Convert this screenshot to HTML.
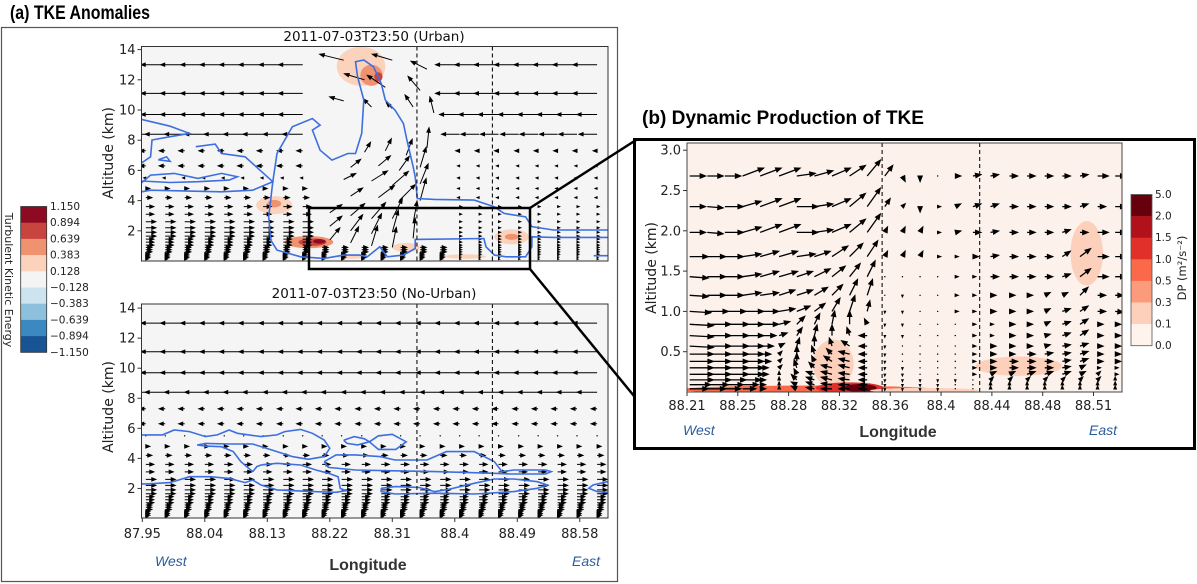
<!DOCTYPE html>
<html><head><meta charset="utf-8">
<style>
html,body{margin:0;padding:0;background:#fff;}
svg{display:block;font-family:"DejaVu Sans","Liberation Sans",sans-serif;}
.tk{font-size:13px;fill:#222;}
.cb{font-size:10.5px;fill:#222;}
</style></head>
<body>
<svg id="fig" xmlns="http://www.w3.org/2000/svg" width="1197" height="584" viewBox="0 0 1197 584">
<defs>
<clipPath id="clipAT"><rect x="141.5" y="46.5" width="466.5" height="214.5"/></clipPath>
<clipPath id="clipAB"><rect x="141.5" y="304" width="466.5" height="214"/></clipPath>
<clipPath id="clipB"><rect x="687" y="143" width="435" height="249"/></clipPath>
</defs>
<text x="10" y="19" font-family="Liberation Sans, sans-serif" font-weight="bold" font-size="19" textLength="140" lengthAdjust="spacingAndGlyphs" fill="#000">(a) TKE Anomalies</text>
<rect x="1.5" y="27.5" width="616" height="554" fill="none" stroke="#555" stroke-width="1.2"/>
<text x="642" y="124" font-family="Liberation Sans, sans-serif" font-weight="bold" font-size="19" textLength="282" lengthAdjust="spacingAndGlyphs" fill="#000">(b) Dynamic Production of TKE</text>

<g id="panelAT">
<rect x="141.5" y="46.5" width="466.5" height="214.5" fill="#f5f5f5"/>
<g id="shadeAT" clip-path="url(#clipAT)"></g>
<g id="quivAT" clip-path="url(#clipAT)"></g>
<g id="contAT" clip-path="url(#clipAT)"></g>
<g id="dashAT"></g>
<rect x="141.5" y="46.5" width="466.5" height="214.5" fill="none" stroke="#333" stroke-width="1"/>
<text x="374" y="41" text-anchor="middle" font-size="13.5" fill="#111">2011-07-03T23:50 (Urban)</text>
<text transform="translate(113,153) rotate(-90)" text-anchor="middle" font-size="14" fill="#222">Altitude (km)</text>
</g>

<g id="panelAB">
<rect x="141.5" y="304" width="466.5" height="214" fill="#f5f5f5"/>
<g id="shadeAB" clip-path="url(#clipAB)"></g>
<g id="quivAB" clip-path="url(#clipAB)"></g>
<g id="contAB" clip-path="url(#clipAB)"></g>
<g id="dashAB"></g>
<rect x="141.5" y="304" width="466.5" height="214" fill="none" stroke="#333" stroke-width="1"/>
<text x="374" y="298" text-anchor="middle" font-size="13.5" fill="#111">2011-07-03T23:50 (No-Urban)</text>
<text transform="translate(113,407) rotate(-90)" text-anchor="middle" font-size="14" fill="#222">Altitude (km)</text>
<text x="155" y="566" font-family="Liberation Sans, sans-serif" font-style="italic" font-size="14" fill="#2b5c9a">West</text>
<text x="368" y="570" text-anchor="middle" font-family="Liberation Sans, sans-serif" font-weight="bold" font-size="16" fill="#333">Longitude</text>
<text x="572" y="566" font-family="Liberation Sans, sans-serif" font-style="italic" font-size="14" fill="#2b5c9a">East</text>
</g>

<g id="cbarA">
<text transform="translate(5,280) rotate(90)" text-anchor="middle" font-size="11" fill="#222">Turbulent Kinetic Energy</text>
</g>

<g id="panelB">
<rect x="687" y="143" width="435" height="249" fill="#fdf1ec"/>
<g id="shadeB" clip-path="url(#clipB)"></g>
<g id="quivB" clip-path="url(#clipB)"></g>
<g id="dashB"></g>
<rect x="687" y="143" width="435" height="249" fill="none" stroke="#444" stroke-width="1"/>
<text transform="translate(656,268) rotate(-90)" text-anchor="middle" font-size="14" fill="#222">Altitude (km)</text>
<text x="683" y="435" font-family="Liberation Sans, sans-serif" font-style="italic" font-size="14" fill="#2b5c9a">West</text>
<text x="898" y="437" text-anchor="middle" font-family="Liberation Sans, sans-serif" font-weight="bold" font-size="16" fill="#333">Longitude</text>
<text x="1089" y="435" font-family="Liberation Sans, sans-serif" font-style="italic" font-size="14" fill="#2b5c9a">East</text>
<text transform="translate(1186,268) rotate(-90)" text-anchor="middle" font-size="11.5" fill="#222">DP (m²/s⁻²)</text>
</g>
<g id="cbarB"></g>

<rect x="309" y="208" width="221" height="61" fill="none" stroke="#000" stroke-width="2.5"/>
<line x1="530" y1="208" x2="636" y2="140" stroke="#000" stroke-width="2.5"/>
<line x1="530" y1="269" x2="634" y2="396" stroke="#000" stroke-width="2.5"/>
<rect x="634.5" y="139.5" width="560" height="309" fill="none" stroke="#000" stroke-width="3"/>
</svg>
<script>
// ---------- Panel (a) data ----------
const lonsA = [87.955,87.983,88.011,88.040,88.068,88.096,88.124,88.153,88.181,88.209,88.237,88.266,88.294,88.322,88.350,88.379,88.407,88.435,88.463,88.492,88.520,88.548,88.576,88.605];
const rowsA = [13,11.1,9.7,8.4,7.3,6.3,5.5,4.8,4.2,3.6,3.1,2.6,2.2,1.9,1.65,1.45,1.25,1.05,0.9,0.75,0.6,0.45,0.33,0.22,0.12];
const noUrbanU = [-12,-12,-12,-10,-3,-3,0,2,3,4,4,5,5,5,5,4,4,4,3,3,3,2,2,2,1];
const urbanWestU = [-12,-12,-12,-10,-3,-3,-1,2,3,4,4,5,5,5,5,4,4,4,3,3,3,2,2,2,1];
const urbanEastU = [-12,-12,-10,-9,-2,-1,-1,-1,-1,1,1,1,1,1,1,1,1,1,1,1,1,1,0.5,0.5,0.5];
const urbanConvLon = [88.24,88.31,88.36,88.27,88.30,88.35,88.24,88.28,88.31,88.34,88.37,88.27,88.30,88.33,88.36,88.25,88.29,88.32,88.35,88.24,88.28,88.31,88.35,88.25,88.29,88.32,88.35,88.22,88.25,88.28,88.31,88.34,88.22,88.25,88.28,88.31,88.34,88.22,88.25,88.28,88.31];
const urbanConvAlt = [13.3,13.3,12.7,12.0,11.5,11.3,10.6,10.2,10.1,10.2,9.8,7.2,7.3,7.0,7.5,6.2,6.3,6.0,6.2,5.4,5.3,5.0,5.1,4.3,4.2,4.0,4.0,3.2,3.0,2.8,2.8,2.5,2.3,2.0,1.8,1.9,1.5,1.4,1.2,1.0,0.9];
const urbanConvU = [-12,-10,-8,-10,-9,-6,-7,-4,-3,-4,-2,3,3,3,1,5,6,5,3,6,8,8,4,6,8,8,3,6,7,7,5,2,6,6,5,3,1,5,4,3,2];
const urbanConvW = [3,3,4,3,6,7,2,4,3,6,8,5,6,8,10,4,5,7,10,3,5,7,10,4,6,8,11,4,6,8,10,11,5,8,10,11,10,6,8,10,10];
const yTicksA = [2,4,6,8,10,12,14];
const xTicksA = [87.95,88.04,88.13,88.22,88.31,88.40,88.49,88.58];
const xTickLabelsA = ["87.95","88.04","88.13","88.22","88.31","88.4","88.49","88.58"];
const dashLonA = [88.3455,88.4542];
const tkeLevels = ["1.150","0.894","0.639","0.383","0.128","\u22120.128","\u22120.383","\u22120.639","\u22120.894","\u22121.150"];
const tkeColors = ["#8c0a22","#c8443f","#ee9270","#fbd3bd","#f4f4f4","#cde3ef","#8cc0dd","#3c88c0","#185393"];
const shadeUrbanLon = [88.265,88.28,88.29,88.14,88.14,88.19,88.195,88.205,88.33,88.482,88.482,88.415,88.25];
const shadeUrbanAlt = [12.9,12.3,12.2,3.7,3.8,1.25,1.25,1.3,0.9,1.6,1.6,0.3,0.3];
const shadeUrbanRLon = [0.035,0.016,0.006,0.026,0.01,0.035,0.02,0.009,0.02,0.025,0.01,0.03,0.02];
const shadeUrbanRAlt = [1.3,0.7,0.3,0.6,0.25,0.4,0.25,0.15,0.3,0.5,0.2,0.15,0.15];
const shadeUrbanCol = ["#fbd3bd","#ee9270","#c8443f","#fbd3bd","#ee9270","#ee9270","#c8443f","#8c0a22","#fbd3bd","#fbd3bd","#ee9270","#fbd3bd","#fbd3bd"];
const contUrban = [
 [[87.949,9.38],[87.99,8.93],[88.018,8.45],[87.99,8.23],[87.964,8.01],[87.962,6.9],[87.949,6.5]],
 [[87.949,5.18],[87.962,5.69],[87.996,5.8],[88.03,5.47],[88.064,5.8],[88.087,5.58],[88.075,5.36],[88.03,5.25],[87.99,5.2],[87.949,5.3]],
 [[88.027,7.57],[88.055,7.74],[88.064,7.12],[88.098,6.9],[88.138,5.25],[88.109,4.69],[88.064,4.58],[87.962,4.69],[87.949,4.58]],
 [[87.973,6.7],[87.985,6.9],[87.99,6.6],[87.973,6.7]],
 [[88.138,5.25],[88.144,7.12],[88.166,8.89],[88.195,9.44],[88.206,9.0],[88.195,8.67],[88.206,7.34],[88.223,6.68],[88.246,7.12],[88.257,7.12],[88.266,8.45],[88.269,10.66],[88.260,12.2],[88.257,13.2],[88.269,13.31],[88.283,12.86],[88.294,11.76],[88.300,10.66],[88.314,9.99],[88.326,9.11],[88.331,8.01],[88.340,6.25],[88.343,5.58],[88.346,4.14],[88.371,4.08],[88.428,4.03],[88.457,3.59],[88.471,3.15],[88.502,2.93],[88.511,2.27],[88.542,2.05],[88.62,2.05]],
 [[88.138,5.25],[88.132,2.93],[88.135,1.38],[88.144,0.72],[88.178,0.28],[88.212,0.17],[88.240,0.39],[88.263,0.39],[88.274,0.28],[88.292,0.94],[88.303,0.28],[88.326,0.39],[88.343,0.83],[88.343,1.43],[88.442,1.49],[88.445,0.94],[88.457,0.39],[88.474,0.28],[88.502,0.28],[88.511,0.94],[88.511,1.6],[88.542,1.56],[88.62,1.56]],
 [[88.600,0.35],[88.62,0.35]]
];
const contNoUrban = [
 [[87.949,5.56],[87.979,5.56],[87.996,5.89],[88.018,5.78],[88.041,5.45],[88.058,5.56],[88.075,5.89],[88.087,5.67],[88.121,5.45],[88.144,5.56],[88.155,5.78],[88.178,5.93],[88.195,5.67],[88.212,5.22],[88.22,4.67],[88.212,4.12],[88.189,3.94],[88.166,4.12],[88.144,4.45],[88.109,4.96],[88.075,4.96],[88.041,5.0],[88.029,4.89],[88.041,4.82],[88.064,4.78],[88.081,4.45],[88.092,3.78],[88.109,3.12]],
 [[88.109,3.12],[88.115,3.45],[88.121,3.56],[88.144,3.67],[88.178,3.56],[88.200,3.23],[88.218,3.01],[88.232,2.78],[88.235,2.01],[88.243,1.85],[88.229,1.74],[88.195,1.79],[88.144,1.9],[88.121,2.23],[88.109,2.56],[88.098,2.39],[88.075,2.67],[88.047,2.78],[88.018,2.78],[87.990,2.39],[87.956,2.3],[87.949,2.3]],
 [[88.240,5.2],[88.255,5.45],[88.27,5.3],[88.277,5.1],[88.26,4.9],[88.245,5.0],[88.240,5.2]],
 [[88.277,5.1],[88.29,5.5],[88.31,5.6],[88.33,5.1],[88.315,4.6],[88.29,4.6],[88.277,5.1]],
 [[88.212,3.78],[88.229,4.23],[88.257,4.23],[88.292,4.12],[88.314,3.89],[88.360,3.89],[88.388,4.45],[88.428,4.45],[88.457,3.78],[88.468,3.12],[88.485,3.23],[88.531,3.23],[88.539,3.12],[88.531,2.96],[88.479,2.96],[88.457,3.01],[88.371,3.12],[88.257,3.23],[88.218,3.4],[88.212,3.78]],
 [[88.294,2.01],[88.314,2.12],[88.348,2.07],[88.371,1.79],[88.388,1.9],[88.428,2.34],[88.457,2.63],[88.485,2.63],[88.519,2.45],[88.533,2.23],[88.519,2.01],[88.485,1.79],[88.428,1.63],[88.371,1.68],[88.314,1.63],[88.294,1.79],[88.294,2.01]],
 [[88.62,2.45],[88.599,2.23],[88.593,2.01],[88.605,1.79],[88.62,1.74]]
];

// ---------- Panel (b) data ----------
const lonsB = [88.212,88.225,88.238,88.251,88.264,88.278,88.291,88.304,88.317,88.330,88.343,88.356,88.369,88.382,88.395,88.408,88.421,88.434,88.448,88.461,88.474,88.487,88.500,88.513,88.526];
const rowsB = [2.68,2.3,1.98,1.68,1.43,1.2,1.0,0.84,0.7,0.57,0.47,0.38,0.3,0.22,0.15,0.09,0.04];
const uB = [
 [6,6,6,8,8,8,7,7,7,6,5,3,1,0,0,2,3,3,3,3,3,3,3,4,4],
 [6,6,7,7,8,8,8,7,7,6,5,2,1,0,1,2,3,3,3,3,3,3,3,3,4],
 [6,6,7,7,8,8,8,7,7,6,5,1,1,1,1,2,3,3,3,3,3,3,3,4,4],
 [7,7,7,7,7,7,7,6,6,5,4,1,1,1,1,1,2,3,3,3,3,3,4,4,4],
 [7,7,7,7,7,7,6,6,5,4,3,0,0,0,0,1,1,3,3,3,3,3,4,4,4],
 [7,7,7,7,7,6,6,5,4,3,2,0,0,0,0,1,1,2,2,2,2,2,3,3,3],
 [8,8,8,8,7,6,5,4,3,2,1,0,0,0,0,1,1,2,2,2,2,3,3,3,3],
 [9,9,9,8,7,4,3,2,1,0,-1,0,0,0,0,0,1,1,2,2,2,3,3,2,2],
 [9,9,9,8,6,3,2,1,0,-1,-3,0,0,0,0,0,1,1,2,2,2,3,3,2,2],
 [9,9,9,8,5,2,1,0,-1,-3,-3,0,0,0,0,0,1,2,2,2,2,3,3,2,2],
 [9,9,9,8,4,1,0,-1,-2,-4,-3,0,0,0,0,0,1,2,2,3,3,3,3,2,2],
 [9,9,9,8,4,1,0,-1,-3,-4,-3,0,0,0,0,0,1,2,3,3,3,3,3,2,2],
 [9,9,9,8,3,1,-1,-2,-4,-4,-3,0,0,0,0,0,1,2,3,3,3,3,2,1,1],
 [9,9,9,8,3,0,-1,-3,-4,-4,-3,0,0,0,0,0,1,2,2,3,3,3,2,1,1],
 [9,9,8,7,2,0,-2,-3,-4,-4,-3,0,0,0,0,0,0,1,1,1,1,1,1,1,0],
 [8,8,7,6,2,0,-2,-3,-4,-4,-3,0,0,0,0,0,0,0,0,0,0,0,0,0,0],
 [7,7,6,5,2,0,-2,-3,-4,-4,-3,0,0,0,0,0,0,0,0,0,0,0,0,0,0]
];
const wB = [
 [0,0,0,3,3,3,1,2,3,4,6,4,-2,-2,0,0,0.5,0.5,0,0,0,0,0.5,0,0],
 [0,-0.5,0,2,3,3,0,1,3,5,7,3,1,-2,0,1,1,1,0,0,0,0,1,0,0],
 [0,-0.5,0,2,3,3,0,1,3,5,7,2,2,2,0,0.5,0,0.5,0,0,0,1,0,0,0],
 [0,0,0,1,2,2,1,2,4,5,6,2,2,2,0,0,0,0.5,0,0,0,2,3,0,0],
 [-0.5,0,0,1,2,2,2,3,4,5,6,0,0,0,0,0,0,0,0,0,0,1,3,0,0],
 [-0.5,0,0,1,1,2,2,3,4,6,6,0,-0.5,0,0,0,0,0,0,0,1,1,3,0,0],
 [-0.5,0,0,0,0,1,2,3,5,6,4,-0.5,-0.5,0,0,0,0,0,0,0,1,1,2,0,-0.3],
 [-0.5,0,0,0,0,1,3,4,5,5,2,-0.5,-0.5,0,0,0,0,0,0,0,1,1,2,0,0],
 [-0.5,0,0,0,0,1,3,4,4,3,0,-0.5,-0.5,0,0,0,0,0,0,0,0.5,1,2,0,0],
 [-0.5,0,0,0,0,1,3,4,3,2,0,-0.5,0,0,0,0,0,0,0,0,0.5,0.5,1,0,0],
 [0,0,0,0,0,1,3,3,2,1,0,-0.5,0,0,0,0,0,0,0,0,0.5,0.5,1,0,0],
 [0,0,0,0,0,1,3,2,2,1,0,-0.5,0,0,0,0,0,0,0,0,0,0.5,1,0,0],
 [0,0,0,0,0,1,3,2,1,1,0,-0.5,-0.5,0,0,0,0,0,0,0,0,0.5,1,0,0],
 [0,0,0,0,0,1,2,1,1,0.5,0,-0.5,-0.5,0,0,0,0,1,1,1,1,1,1,1,0],
 [0,0,0,0,0,1,2,1,1,0.5,0,-0.5,-0.5,-0.5,-0.5,-0.5,0,1,1,1,1,1,1,1,1],
 [0,0,0,0,0,1,1,1,0.5,0,0,-0.5,-0.5,-0.5,-0.5,0,0,1,1,1,1,1,1,1,1],
 [0,0,0,0,0,1,1,0.5,0,0,0,-0.5,-0.5,-0.5,-0.5,0,0,1,1,1,1,1,1,1,1]
];
const yTicksB = [0.5,1.0,1.5,2.0,2.5,3.0];
const xTickLabelsB = ["88.21","88.25","88.28","88.32","88.36","88.4","88.44","88.48","88.51"];
const xTickLonB = [88.21,88.24,88.27,88.30,88.33,88.36,88.39,88.42,88.45];
const dashLonB = [88.354,88.426];
const dpLevels = ["5.0","2.0","1.5","1.0","0.5","0.3","0.1","0.0"];
const dpColors = ["#67000d","#b0111b","#e1302a","#f9694a","#fc9b7c","#fdd0bc","#fff3ee"];
const shadeBLon = [88.505,88.455,88.318,88.30,88.33,88.338,88.385];
const shadeBAlt = [1.72,0.32,0.35,0.03,0.05,0.05,0.02];
const shadeBRLon = [0.012,0.032,0.015,0.095,0.025,0.012,0.04];
const shadeBRAlt = [0.4,0.12,0.3,0.05,0.07,0.05,0.03];
const shadeBCol = ["#fdd0bc","#fdd0bc","#fdd0bc","#f9694a","#e1302a","#67000d","#fdd0bc"];

// ---------- scales ----------
const xA = lon => 142.3 + (lon - 87.95) * 694.4;
const yAT = alt => 261 - alt * 15.1;
const yAB = alt => 518.5 - alt * 15.03;
const xB = lon => 687 + (lon - 88.21) * 1355;
const yB = alt => 392 - alt * 80.6;

const NS = "http://www.w3.org/2000/svg";
function mk(tag, parent){ const e = document.createElementNS(NS, tag); parent.appendChild(e); return e; }

function drawArrow(g, x, y, dx, dy, hl, hw, sw){
  const L = Math.hypot(dx, dy);
  if (L < 0.8){
    const c = mk('circle', g);
    
    
    c.setAttribute('cx', x); c.setAttribute('cy', y); c.setAttribute('r', 0.7); c.setAttribute('fill', '#000');
    return;
  }
  const ux = dx / L, uy = dy / L;
  const h = Math.min(hl, L);
  const tx = x + dx, ty = y + dy;
  const bx = tx - ux * h, by = ty - uy * h;
  const w = hw / 2 * Math.min(1, L / hl);
  const p = mk('path', g);
  
  
  p.setAttribute('d', `M${x.toFixed(1)} ${y.toFixed(1)}L${bx.toFixed(1)} ${by.toFixed(1)}M${tx.toFixed(1)} ${ty.toFixed(1)}L${(bx - uy*w).toFixed(1)} ${(by + ux*w).toFixed(1)}L${(bx + uy*w).toFixed(1)} ${(by - ux*w).toFixed(1)}Z`);
  p.setAttribute('stroke', '#000'); p.setAttribute('stroke-width', sw); p.setAttribute('fill', '#000');
}

function drawShade(g, lons, alts, rl, ra, cols, xs, ys){
  for (let i = 0; i < lons.length; i++){
    const e = mk('ellipse', g);
    
    
    e.setAttribute('cx', xs(lons[i])); e.setAttribute('cy', ys(alts[i]));
    e.setAttribute('rx', Math.abs(xs(lons[i] + rl[i]) - xs(lons[i])));
    e.setAttribute('ry', Math.abs(ys(alts[i] + ra[i]) - ys(alts[i])));
    e.setAttribute('fill', cols[i]);
  }
}
function drawContours(g, conts, xs, ys){
  conts.forEach(c => {
    const p = mk('path', g);
    
    
    p.setAttribute('d', c.map((q, i) => (i ? 'L' : 'M') + xs(q[0]).toFixed(1) + ' ' + ys(q[1]).toFixed(1)).join(''));
    p.setAttribute('fill', 'none'); p.setAttribute('stroke', '#3d6fe0'); p.setAttribute('stroke-width', 1.6);
  });
}
function drawDash(g, lons, xs, y0, y1){
  lons.forEach(l => {
    const d = mk('line', g);
    
    
    d.setAttribute('x1', xs(l)); d.setAttribute('x2', xs(l)); d.setAttribute('y1', y0); d.setAttribute('y2', y1);
    d.setAttribute('stroke', '#111'); d.setAttribute('stroke-width', 1.1); d.setAttribute('stroke-dasharray', '4 3');
  });
}
function yTicks(g, ticks, ys, xAxis, fmt){
  ticks.forEach(t => {
    const l = mk('line', g);
    
    
    l.setAttribute('x1', xAxis - 4); l.setAttribute('x2', xAxis); l.setAttribute('y1', ys(t)); l.setAttribute('y2', ys(t)); l.setAttribute('stroke', '#333');
    const tx = mk('text', g);
    
    
    tx.setAttribute('x', xAxis - 6); tx.setAttribute('y', ys(t) + 4.5); tx.setAttribute('text-anchor', 'end'); tx.setAttribute('class', 'tk');
    tx.textContent = fmt(t);
  });
}

// ---------- Panel (a) top: urban ----------
const gAT = document.getElementById('quivAT');
drawShade(document.getElementById('shadeAT'), shadeUrbanLon, shadeUrbanAlt, shadeUrbanRLon, shadeUrbanRAlt, shadeUrbanCol, xA, yAT);
rowsA.forEach((alt, j) => {
  lonsA.forEach(lon => {
    if (lon > 88.2 && lon < 88.385 && alt > 0.9) return;
    const u = lon >= 88.385 ? urbanEastU[j] : urbanWestU[j];
    drawArrow(gAT, xA(lon), yAT(alt), u * 2, 0, 4, 3.2, 1);
  });
});
urbanConvLon.forEach((lon, i) => {
  drawArrow(gAT, xA(lon), yAT(urbanConvAlt[i]), urbanConvU[i] * 2, -urbanConvW[i] * 2, 4.5, 3.4, 1);
});
drawContours(document.getElementById('contAT'), contUrban, xA, yAT);
drawDash(document.getElementById('dashAT'), dashLonA, xA, 46.5, 261);
yTicks(document.getElementById('panelAT'), yTicksA, yAT, 141.5, t => String(t));

// ---------- Panel (a) bottom: no-urban ----------
const gAB = document.getElementById('quivAB');
rowsA.forEach((alt, j) => {
  lonsA.forEach(lon => {
    drawArrow(gAB, xA(lon), yAB(alt), noUrbanU[j] * 2, 0, 4, 3.2, 1);
  });
});
drawContours(document.getElementById('contAB'), contNoUrban, xA, yAB);
drawDash(document.getElementById('dashAB'), dashLonA, xA, 304, 495);
yTicks(document.getElementById('panelAB'), yTicksA, yAB, 141.5, t => String(t));
xTicksA.forEach((t, i) => {
  const g = document.getElementById('panelAB');
  const l = mk('line', g);
  
  
  l.setAttribute('x1', xA(t)); l.setAttribute('x2', xA(t)); l.setAttribute('y1', 518); l.setAttribute('y2', 522); l.setAttribute('stroke', '#333');
  const tx = mk('text', g);
  
  
  tx.setAttribute('x', xA(t)); tx.setAttribute('y', 538); tx.setAttribute('text-anchor', 'middle'); tx.setAttribute('class', 'tk'); tx.setAttribute('font-size', '14');
  tx.textContent = xTickLabelsA[i];
});

(function(){
  const g = document.getElementById('cbarA');
  const top = 206.5, h = 16.2;
  tkeColors.forEach((c, i) => {
    const r = mk('rect', g);
    
    
    r.setAttribute('x', 20.7); r.setAttribute('y', top + i * h); r.setAttribute('width', 26); r.setAttribute('height', h + 0.3); r.setAttribute('fill', c);
  });
  const f = mk('rect', g);
  
  
  f.setAttribute('x', 20.7); f.setAttribute('y', top); f.setAttribute('width', 26); f.setAttribute('height', h * 9); f.setAttribute('fill', 'none'); f.setAttribute('stroke', '#333'); f.setAttribute('stroke-width', 0.8);
  tkeLevels.forEach((lab, i) => {
    const t = mk('text', g);
    
    
    t.setAttribute('x', 50); t.setAttribute('y', top + i * h + 3.5); t.setAttribute('class', 'cb');
    t.textContent = lab;
  });
})();

// ---------- Panel (b) ----------
drawShade(document.getElementById('shadeB'), shadeBLon, shadeBAlt, shadeBRLon, shadeBRAlt, shadeBCol, xB, yB);
const gB = document.getElementById('quivB');
rowsB.forEach((alt, j) => {
  lonsB.forEach((lon, i) => {
    drawArrow(gB, xB(lon), yB(alt), uB[j][i] * 2.6, -wB[j][i] * 2.6, 5, 4, 1.3);
  });
});
drawDash(document.getElementById('dashB'), dashLonB, xB, 143, 392);
yTicks(document.getElementById('panelB'), yTicksB, yB, 687, t => t.toFixed(1));
xTickLonB.forEach((t, i) => {
  const g = document.getElementById('panelB');
  const x = 687 + (xB(t) - 687) * (406.5 / (xB(88.45) - 687));
  const l = mk('line', g);
  
  
  l.setAttribute('x1', x); l.setAttribute('x2', x); l.setAttribute('y1', 392); l.setAttribute('y2', 396); l.setAttribute('stroke', '#333');
  const tx = mk('text', g);
  
  
  tx.setAttribute('x', x); tx.setAttribute('y', 410); tx.setAttribute('text-anchor', 'middle'); tx.setAttribute('class', 'tk');
  tx.textContent = xTickLabelsB[i];
});
(function(){
  const g = document.getElementById('cbarB');
  const top = 194.5, h = 21.6;
  dpColors.forEach((c, i) => {
    const r = mk('rect', g);
    
    
    r.setAttribute('x', 1131); r.setAttribute('y', top + i * h); r.setAttribute('width', 21); r.setAttribute('height', h + 0.3); r.setAttribute('fill', c);
  });
  const f = mk('rect', g);
  
  
  f.setAttribute('x', 1131); f.setAttribute('y', top); f.setAttribute('width', 21); f.setAttribute('height', h * 7); f.setAttribute('fill', 'none'); f.setAttribute('stroke', '#555'); f.setAttribute('stroke-width', 0.8);
  dpLevels.forEach((lab, i) => {
    const t = mk('text', g);
    
    
    t.setAttribute('x', 1155); t.setAttribute('y', top + i * h + 3.5); t.setAttribute('class', 'cb');
    t.textContent = lab;
  });
})();
</script>
</body></html>
